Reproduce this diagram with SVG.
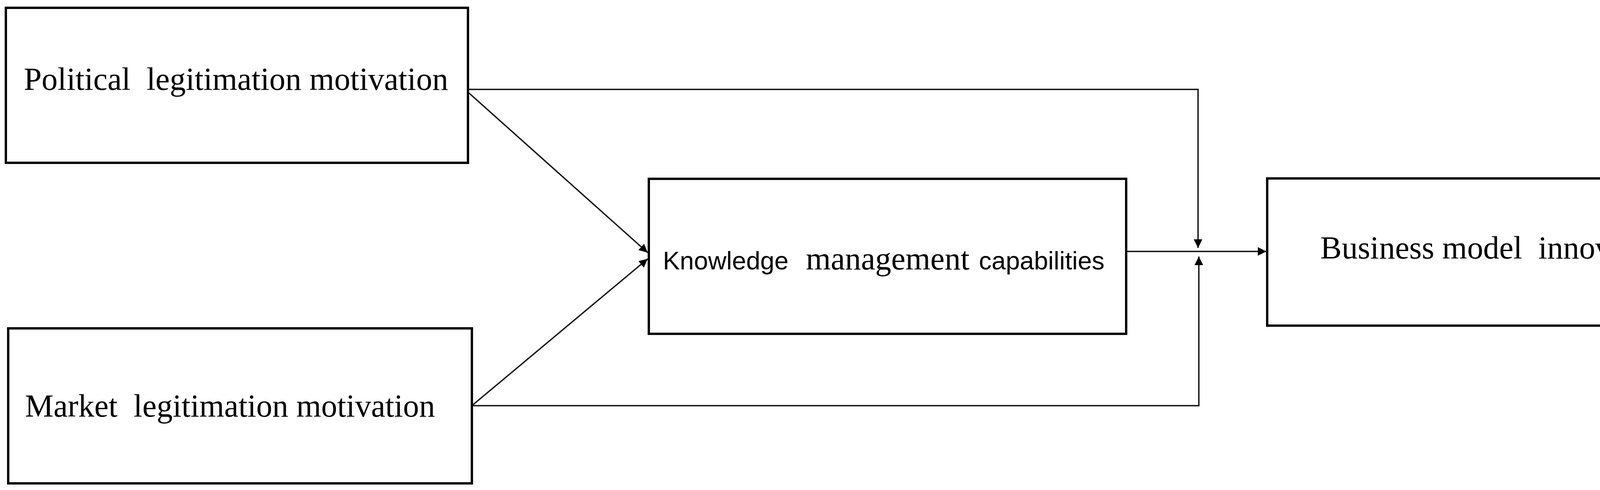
<svg xmlns="http://www.w3.org/2000/svg" width="4319" height="1255" viewBox="0 0 4319 1255">
  <style>
    .box { fill: #ffffff; stroke: #000000; stroke-width: 6; }
    .serif { font-family: "Liberation Serif", "Times New Roman", serif; font-size: 82px; fill: #000000; }
    .sans { font-family: "Liberation Sans", Arial, sans-serif; font-size: 65px; fill: #000000; }
    .conn { fill: none; stroke: #111111; stroke-width: 3.5; }
  </style>
  <defs>
    <marker id="arrow" markerUnits="userSpaceOnUse" markerWidth="24" markerHeight="24" refX="22" refY="11" orient="auto">
      <path d="M0,0 L22,11 L0,22 z" fill="#000000"/>
    </marker>
  </defs>
  <rect width="4319" height="1255" fill="#ffffff"/>

  <g id="connectors">
    <path class="conn" d="M1198,229 H3067 V635" marker-end="url(#arrow)"/>
    <path class="conn" d="M1208,1039 H3069 V657" marker-end="url(#arrow)"/>
    <path class="conn" d="M2883,644 H3242" marker-end="url(#arrow)"/>
    <path class="conn" d="M1198,236 L1658,647" marker-end="url(#arrow)"/>
    <path class="conn" d="M1208,1039 L1658,663" marker-end="url(#arrow)"/>
  </g>

  <g id="node-political">
    <rect class="box" x="15" y="20" width="1183" height="397"/>
    <text class="serif" x="61" y="230" xml:space="preserve">Political  legitimation motivation</text>
  </g>

  <g id="node-market">
    <rect class="box" x="21" y="841" width="1187" height="397"/>
    <text class="serif" x="64" y="1067" xml:space="preserve">Market  legitimation motivation</text>
  </g>

  <g id="node-knowledge">
    <rect class="box" x="1661" y="458" width="1222" height="397"/>
    <text x="1697" y="690"><tspan class="sans" x="1697">Knowledge</tspan><tspan class="serif" x="2063">management</tspan><tspan class="sans" x="2506">capabilities</tspan></text>
  </g>

  <g id="node-business">
    <rect class="box" x="3244" y="457" width="1058" height="377"/>
    <text class="serif" x="3380" y="662" xml:space="preserve">Business model  innovation</text>
  </g>
</svg>
